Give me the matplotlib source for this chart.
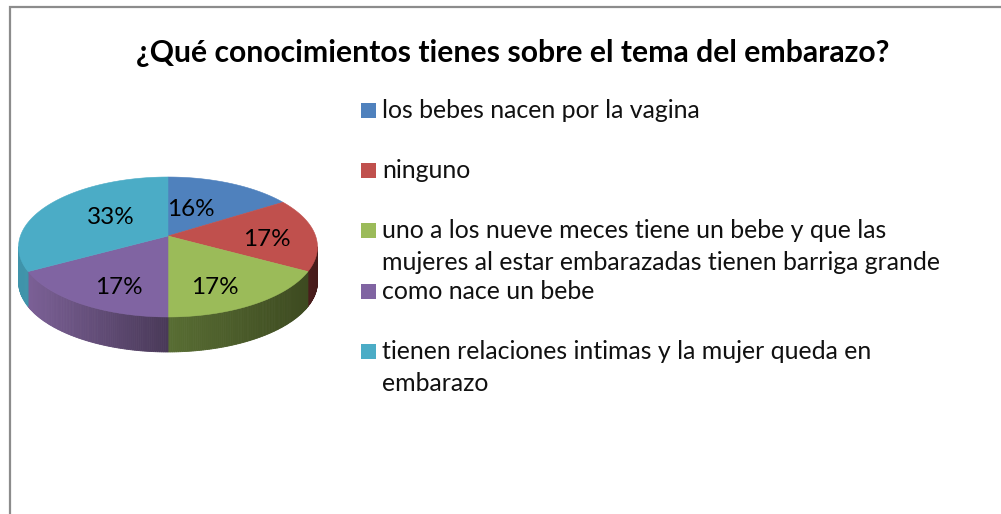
import numpy as np
import matplotlib
matplotlib.use("Agg")
import matplotlib.pyplot as plt
from matplotlib.patches import Polygon, Rectangle

title = "¿Qué conocimientos tienes sobre el tema del embarazo?"
categories = [
    "los bebes nacen por la vagina",
    "ninguno",
    "uno a los nueve meces tiene un bebe y que las\nmujeres al estar embarazadas tienen barriga grande",
    "como nace un bebe",
    "tienen relaciones intimas y la mujer queda en\nembarazo",
]
values = [16, 17, 17, 17, 33]

colors = ["#4f81bd", "#c0504d", "#9bbb59", "#8064a2", "#4bacc6"]
side_left = ["#3a5f8c", "#5a2422", "#586d33", "#7b6096", "#3f93aa"]
side_right = ["#2c4a6e", "#451b1a", "#3d4a20", "#493958", "#3f93aa"]

# layout, in pixels of the picture
label_pos = [(191, 209), (267, 240), (215, 288), (119, 287), (111, 217)]
legend_y = [118, 178, 238, 299, 359]
line_gap = 32
cx, cy = 168, 236
radius = 147.6
persp = 0.157
tilt = 31.2
depth = 35


# tilted disc seen in perspective, angle clockwise from the top
def project(theta, r=1.0):
    u = r * np.sin(theta)
    v = r * np.cos(theta)
    w = 1 + persp * v
    return cx + radius * u / w, (cy - tilt * v) / w


plt.rcParams["font.family"] = "Lato"
fig = plt.figure(figsize=(10.01, 5.14), dpi=100)
ax = fig.add_axes([0, 0, 1, 1])
ax.set_xlim(0, 1001)
ax.set_ylim(514, 0)
ax.axis("off")

# chart frame, only top and left are in the crop
ax.plot([9.5, 9.5, 1001], [514, 6.5, 6.5], color="#8c8c8c", lw=1.6, solid_joinstyle="miter")

edges = np.cumsum([0] + values) / sum(values) * 2 * np.pi

# side wall first, the top face covers the back half
for i in range(len(values)):
    left = np.array(matplotlib.colors.to_rgb(side_left[i]))
    right = np.array(matplotlib.colors.to_rgb(side_right[i]))
    th = np.linspace(edges[i], edges[i + 1], 90)
    xs, ys = project(th)
    xmin, xmax = xs.min(), xs.max()
    for j in range(len(th) - 1):
        if ys[j] < 247 and ys[j + 1] < 247:
            continue
        t = ((xs[j] + xs[j + 1]) / 2 - xmin) / max(xmax - xmin, 1)
        quad = [(xs[j], ys[j]), (xs[j + 1], ys[j + 1]),
                (xs[j + 1], ys[j + 1] + depth), (xs[j], ys[j] + depth)]
        c = left * (1 - t) + right * t
        ax.add_patch(Polygon(quad, fc=c, ec=c, lw=0.6, zorder=2))

for i in range(len(values)):
    th = np.linspace(edges[i], edges[i + 1], 120)
    xs, ys = project(th)
    pts = [(cx, cy)] + list(zip(xs, ys))
    ax.add_patch(Polygon(pts, fc=colors[i], ec=colors[i], lw=0.4, zorder=3))

for v, (x, y) in zip(values, label_pos):
    ax.text(x, y, f"{v}%", ha="center", va="center", fontsize=17.5, color="black", zorder=5)

ax.text(512.5, 53, title, ha="center", va="center", fontsize=21.7, fontweight="bold", color="black")

for name, c, y in zip(categories, colors, legend_y):
    ax.add_patch(Rectangle((361, y - 15), 15, 15, fc=c, ec="none"))
    for k, line in enumerate(name.split("\n")):
        ax.text(382, y + k * line_gap, line, ha="left", va="baseline", fontsize=17.9, color="#111111")

fig.savefig("out.png", dpi=100)
